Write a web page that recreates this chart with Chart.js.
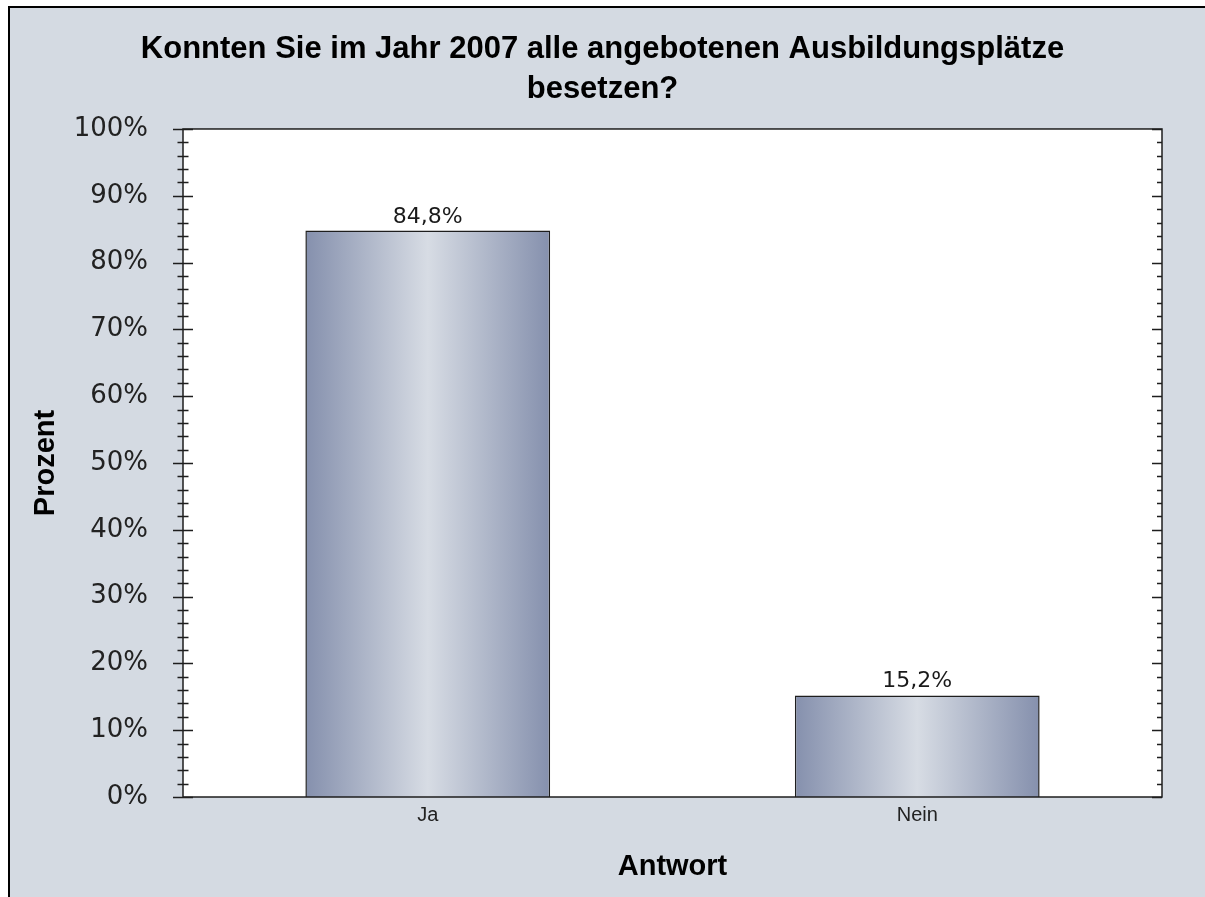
<!DOCTYPE html>
<html>
<head>
<meta charset="utf-8">
<script src="https://cdn.jsdelivr.net/npm/chart.js@4.4.1/dist/chart.umd.min.js"></script>
<style>
  html, body { margin: 0; padding: 0; background: #fff; }
  #wrap { width: 1205px; height: 897px; }
</style>
</head>
<body>
<div id="wrap"><canvas id="chart" width="1205" height="897"></canvas></div>
<script>
const categories = ["Ja", "Nein"];
const percentValues = [84.8, 15.2];
const valueLabels = ["84,8%", "15,2%"];
const titleLines = ["Konnten Sie im Jahr 2007 alle angebotenen Ausbildungsplätze", "besetzen?"];
const yMin = 0, yMax = 100, yStep = 10, yMinorStep = 2;

const BG = "#d4dae2";

function barGradient(ctx) {
  const chart = ctx.chart;
  const xs = chart.scales.x;
  if (!xs || !chart.chartArea) return "#9aa3bd";
  const cx = xs.getPixelForValue(ctx.dataIndex);
  const half = (xs.width / categories.length) * 0.5 / 2;
  const g = chart.ctx.createLinearGradient(cx - half, 0, cx + half, 0);
  g.addColorStop(0, "#8590ad");
  g.addColorStop(0.5, "#d7dce4");
  g.addColorStop(1, "#8590ad");
  return g;
}

// background, plot frame, tick marks and value labels
const framePlugin = {
  id: "framePlugin",
  beforeDraw(chart) {
    const c = chart.ctx, a = chart.chartArea;
    c.save();
    c.fillStyle = "#ffffff";
    c.fillRect(0, 0, chart.width, chart.height);
    c.fillStyle = BG;
    c.fillRect(9, 7, chart.width - 9, chart.height - 7);
    c.strokeStyle = "#000";
    c.lineWidth = 2;
    c.beginPath();
    c.moveTo(9, chart.height);
    c.lineTo(9, 7);
    c.lineTo(chart.width, 7);
    c.stroke();
    c.fillStyle = "#ffffff";
    c.fillRect(a.left, a.top, a.right - a.left, a.bottom - a.top);
    c.restore();
  },
  afterDatasetsDraw(chart) {
    const c = chart.ctx, a = chart.chartArea, ys = chart.scales.y;
    c.save();
    c.strokeStyle = "#1e1e1e";
    c.lineWidth = 1.5;
    c.strokeRect(a.left, a.top, a.right - a.left, a.bottom - a.top);
    c.beginPath();
    for (let v = yMin; v <= yMax; v += yMinorStep) {
      const py = Math.round(ys.getPixelForValue(v)) + 0.5;
      const major = v % yStep === 0;
      const l = major ? 10 : 5.5;
      c.moveTo(a.left - l, py);
      c.lineTo(a.left + l, py);
      c.moveTo(a.right - (major ? 10 : 5), py);
      c.lineTo(a.right, py);
    }
    c.stroke();

    c.font = "22px 'DejaVu Sans'";
    c.fillStyle = "#1a1a1a";
    c.textAlign = "center";
    c.textBaseline = "alphabetic";
    chart.getDatasetMeta(0).data.forEach((bar, i) => {
      c.fillText(valueLabels[i], bar.x, bar.y - 8);
    });
    c.restore();
  }
};

new Chart(document.getElementById("chart"), {
  type: "bar",
  data: {
    labels: categories,
    datasets: [{
      data: percentValues,
      backgroundColor: barGradient,
      borderColor: "#1e1e1e",
      borderWidth: 1.5,
      categoryPercentage: 1,
      barPercentage: 0.5,
    }]
  },
  options: {
    responsive: false,
    devicePixelRatio: 1,
    animation: false,
    layout: { padding: 0 },
    plugins: {
      legend: { display: false },
      tooltip: { enabled: false },
      title: {
        display: true,
        text: titleLines,
        color: "#000",
        font: { family: "'Liberation Sans', Arial, sans-serif", size: 31, weight: "bold", lineHeight: 1.29 },
        padding: { top: 29, bottom: 20 },
      },
    },
    scales: {
      x: {
        grid: { display: false, drawTicks: false },
        border: { display: false },
        ticks: {
          color: "#222",
          padding: 6,
          font: { family: "'Liberation Sans', Arial, sans-serif", size: 20 },
        },
        title: {
          display: true,
          text: "Antwort",
          color: "#000",
          font: { family: "'Liberation Sans', Arial, sans-serif", size: 29, weight: "bold" },
          padding: { top: 0, bottom: 13 },
        },
        afterFit(scale) { scale.height = 100; },
      },
      y: {
        min: yMin,
        max: yMax,
        grid: { display: false, drawTicks: false },
        border: { display: false },
        ticks: {
          stepSize: yStep,
          color: "#222",
          padding: 35,
          font: { family: "'DejaVu Sans', sans-serif", size: 26 },
          callback: (v) => v + "%",
        },
        title: {
          display: true,
          text: "Prozent",
          color: "#000",
          font: { family: "'Liberation Sans', Arial, sans-serif", size: 29, weight: "bold" },
          padding: { top: 29, bottom: 0 },
        },
        afterFit(scale) { scale.width = 183; },
      },
      yRight: {
        position: "right",
        min: yMin,
        max: yMax,
        grid: { display: false, drawTicks: false },
        border: { display: false },
        ticks: { display: false },
        afterFit(scale) { scale.width = 43; },
      }
    }
  },
  plugins: [framePlugin]
});
</script>
</body>
</html>
